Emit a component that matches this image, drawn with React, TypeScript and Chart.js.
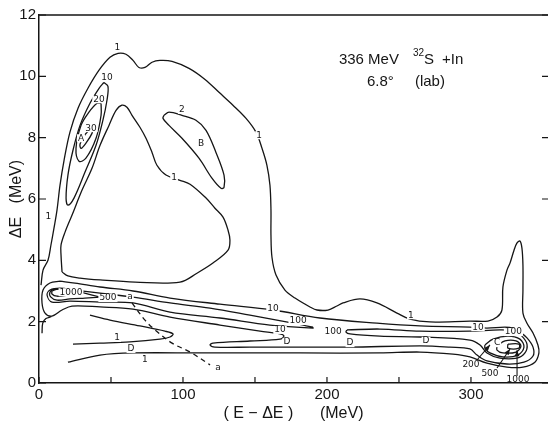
import React, { useEffect, useRef } from "react";
import { Chart, registerables } from "chart.js";

Chart.register(...registerables);

type P = [number, number];

// ---- axes ----
const X_MIN = 0;
const X_MAX = 353.5;
const Y_MIN = 0;
const Y_MAX = 12;
const X_TICKS = [0, 100, 200, 300];
const X_MINOR = [50, 150, 250];
const Y_TICKS = [0, 2, 4, 6, 8, 10, 12];

// ---- contour lines (E-ΔE in MeV, ΔE in MeV) ----
const OUTER_1: P[] = [
  [1.4, 3.19], [2.8, 3.68], [6.3, 4.01], [8.3, 4.5], [10.4, 5.05], [12.5, 5.64], [14.6, 6.45],
  [17.4, 7.26], [21.5, 8.18], [27.1, 8.96], [34.0, 9.61], [41.7, 10.2], [49.3, 10.62], [54.9, 10.75],
  [60.4, 10.72], [65.3, 10.52], [69.4, 10.29], [73.6, 10.29], [78.5, 10.46], [84.0, 10.52],
  [92.4, 10.49], [104.2, 10.26], [115.3, 9.9], [125.0, 9.48], [134.7, 9.06], [143.8, 8.63],
  [150.7, 8.18], [154.9, 7.65], [158.3, 7.1], [160.4, 6.45], [161.1, 5.64], [161.1, 4.82],
  [161.8, 4.1], [164.6, 3.52], [170.8, 3.03], [177.8, 2.77], [188.2, 2.48], [193.1, 2.38],
  [200.7, 2.38], [206.9, 2.51], [211.1, 2.61], [222.9, 2.74], [234.7, 2.61], [248.6, 2.28],
  [257.6, 2.08], [271.5, 1.99], [299.3, 2.02], [311.8, 2.02], [318.1, 2.15], [321.5, 2.38],
  [322.2, 3.13], [325.0, 3.68], [327.1, 3.91], [329.9, 4.33], [331.9, 4.56], [334.0, 4.63],
  [335.4, 4.4], [336.1, 3.84], [336.1, 3.03], [336.1, 2.28], [338.9, 1.95], [343.1, 1.63],
  [346.5, 1.24], [347.2, 0.98], [344.4, 0.68], [336.1, 0.52], [325.0, 0.52], [311.1, 0.65],
  [299.3, 0.85], [287.5, 0.94], [264.6, 1.01], [236.8, 0.98], [181.3, 0.98], [111.8, 0.98],
  [65.3, 0.98], [42.4, 0.91], [20.1, 0.68],
];

const HOLE_1: P[] = [
  [16.0, 3.62], [15.3, 4.17], [15.3, 4.5], [18.1, 4.92], [22.9, 5.47], [29.9, 6.29], [36.8, 7.0],
  [42.4, 7.75], [48.6, 8.4], [53.5, 8.89], [57.6, 9.06], [61.1, 8.99], [64.6, 8.73], [70.1, 8.34],
  [74.3, 7.98], [78.5, 7.52], [81.9, 7.1], [88.2, 6.78], [97.9, 6.61], [104.9, 6.48], [116.0, 6.03],
  [122.2, 5.7], [127.8, 5.41], [131.3, 4.98], [132.6, 4.66], [131.3, 4.33], [120.8, 3.91],
  [109.7, 3.58], [97.9, 3.29], [66.7, 3.29], [42.4, 3.36], [28.5, 3.42], [20.1, 3.49],
];

const PEAK_A_10: P[] = [
  [45.1, 9.8], [47.9, 9.67], [47.2, 9.22], [44.4, 8.57], [39.6, 7.75], [31.9, 6.87], [24.3, 6.03],
  [20.1, 5.8], [18.8, 6.03], [20.1, 6.78], [23.6, 7.59], [28.5, 8.4], [35.4, 9.12], [41.7, 9.61],
];
const PEAK_A_20: P[] = [
  [43.1, 9.12], [43.1, 8.73], [39.6, 7.98], [32.6, 7.33], [27.8, 7.23], [25.7, 7.65], [29.2, 8.4],
  [34.7, 8.83], [40.3, 9.12],
];
const PEAK_A_30: P[] = [
  [37.5, 8.34], [36.8, 8.14], [32.6, 7.82], [29.2, 7.65], [28.5, 7.79], [31.3, 8.05], [34.7, 8.24],
];
const PEAK_B_2: P[] = [
  [86.8, 8.73], [90.3, 8.83], [99.3, 8.73], [109.0, 8.57], [116.0, 8.24], [122.9, 7.52],
  [128.5, 6.78], [128.5, 6.38], [126.4, 6.35], [120.1, 6.68], [111.1, 7.33], [99.3, 7.98],
  [90.3, 8.4], [86.1, 8.63],
];

const BAND_10: P[] = [
  [14.6, 3.32], [25.0, 3.26], [42.4, 3.13], [65.3, 3.0], [91.0, 2.77], [125.7, 2.57], [162.5, 2.38],
  [195.1, 2.12], [234.7, 1.95], [264.6, 1.86], [299.3, 1.82], [311.1, 1.79], [323.6, 1.82],
  [329.2, 1.79], [334.0, 1.66], [338.9, 1.47], [343.1, 1.17], [343.1, 0.88], [336.8, 0.68],
  [325.0, 0.62], [311.1, 0.72], [304.2, 0.91], [299.3, 1.11], [285.4, 1.17], [264.6, 1.21],
  [216.0, 1.17], [181.3, 1.17], [146.5, 1.17], [122.2, 1.17], [118.8, 1.24], [120.8, 1.3],
  [146.5, 1.37], [167.4, 1.43], [170.1, 1.53], [167.4, 1.6], [153.5, 1.69], [125.7, 1.89],
  [91.0, 2.15], [65.3, 2.41], [42.4, 2.48], [22.9, 2.51], [16.0, 2.38], [9.0, 2.18], [4.2, 2.28],
  [2.1, 2.61], [2.8, 3.03], [7.6, 3.26],
];

const LEFT_100: P[] = [
  [190.3, 1.82], [176.4, 1.95], [146.5, 2.21], [118.8, 2.44], [91.0, 2.61], [65.3, 2.8],
  [42.4, 2.93], [25.0, 3.03], [14.6, 3.09], [7.6, 3.03], [5.6, 2.87], [9.0, 2.64], [21.5, 2.67],
  [42.4, 2.64], [65.3, 2.61], [91.0, 2.31], [125.7, 2.12], [160.4, 1.89], [190.3, 1.79],
];
const LEFT_500: P[] = [
  [42.4, 2.8], [28.5, 2.96], [18.1, 3.06], [11.1, 3.06], [7.6, 2.96], [8.3, 2.8], [12.5, 2.7],
  [21.5, 2.74], [31.9, 2.77],
];
const LEFT_1000: P[] = [
  [9.0, 3.0], [13.2, 3.06], [20.1, 3.03], [25.0, 2.93], [20.1, 2.87], [12.5, 2.83], [9.0, 2.9],
];

const TONGUE_1: P[] = [
  [35.4, 2.21], [49.3, 2.05], [70.1, 1.86], [87.5, 1.69], [93.1, 1.6], [91.0, 1.5], [84.0, 1.43],
  [63.2, 1.34], [42.4, 1.3], [23.6, 1.27],
];
const STUB_LEFT: P[] = [[2.1, 1.62], [2.6, 1.95], [4.8, 2.1], [8.5, 2.16]];

const RIGHT_100: P[] = [
  [213.9, 1.73], [236.8, 1.76], [264.6, 1.69], [299.3, 1.69], [320.1, 1.73], [330.6, 1.69],
  [335.4, 1.53], [338.9, 1.27], [337.5, 0.98], [331.9, 0.81], [320.1, 0.81], [311.1, 0.98],
  [306.3, 1.24], [299.3, 1.4], [264.6, 1.5], [236.8, 1.53], [216.0, 1.6], [213.2, 1.66],
];
const RIGHT_200: P[] = [
  [309.7, 1.24], [315.3, 1.43], [325.7, 1.53], [334.0, 1.43], [336.8, 1.17], [332.6, 0.91],
  [322.2, 0.85], [313.2, 0.98], [309.7, 1.14],
];
const RIGHT_500: P[] = [
  [318.1, 1.21], [323.6, 1.37], [331.3, 1.37], [334.7, 1.21], [331.3, 1.01], [322.2, 0.98],
  [318.1, 1.07],
];
const RIGHT_1000: P[] = [[325.7, 1.27], [333.3, 1.27], [333.3, 1.14], [325.7, 1.14]];

const TRACK_A: P[] = [
  [64.6, 2.61], [73.6, 2.05], [80.6, 1.73], [92.4, 1.3], [104.9, 1.01], [118.8, 0.59],
];

const ARROWS: [P, P][] = [
  [[304.2, 0.75], [313.2, 1.24]],
  [[318.1, 0.49], [327.1, 1.11]],
  [[332.0, 0.23], [332.0, 1.07]],
];

const LABELS: [string, number, number][] = [
  ["1", 54.5, 10.95], ["10", 47.2, 9.97], ["20", 41.7, 9.25], ["30", 36.1, 8.31], ["A", 29.2, 7.98],
  ["2", 99.3, 8.9], ["B", 112.5, 7.79], ["1", 93.8, 6.71], ["1", 152.8, 8.08], ["1", 6.5, 5.41],
  ["1000", 22.2, 2.96], ["500", 47.9, 2.77], ["a", 63.2, 2.8], ["1", 54.2, 1.47], ["D", 63.9, 1.11],
  ["1", 73.6, 0.75], ["a", 124.3, 0.49], ["10", 162.5, 2.44], ["100", 179.9, 2.02],
  ["10", 167.4, 1.73], ["D", 172.2, 1.34], ["100", 204.2, 1.69], ["D", 216.0, 1.3],
  ["1", 258.3, 2.21], ["D", 268.8, 1.37], ["10", 304.9, 1.82], ["100", 329.5, 1.66], ["C", 318.1, 1.3],
];
const ARROW_LABELS: [string, number, number][] = [
  ["200", 300.0, 0.59], ["500", 313.2, 0.29], ["1000", 332.6, 0.1],
];

const CONTOURS: { pts: P[]; closed: boolean; dash?: number[] }[] = [
  { pts: OUTER_1, closed: false },
  { pts: HOLE_1, closed: true },
  { pts: PEAK_A_10, closed: true },
  { pts: PEAK_A_20, closed: true },
  { pts: PEAK_A_30, closed: true },
  { pts: PEAK_B_2, closed: true },
  { pts: BAND_10, closed: true },
  { pts: LEFT_100, closed: true },
  { pts: LEFT_500, closed: true },
  { pts: LEFT_1000, closed: true },
  { pts: TONGUE_1, closed: false },
  { pts: STUB_LEFT, closed: false },
  { pts: RIGHT_100, closed: true },
  { pts: RIGHT_200, closed: true },
  { pts: RIGHT_500, closed: true },
  { pts: RIGHT_1000, closed: true },
  { pts: TRACK_A, closed: false, dash: [5, 4] },
];

const INK = "#151515";
const FAM = '"Liberation Sans", Arial, sans-serif';
const LBL = '"DejaVu Sans", sans-serif';

const decor = {
  id: "decor",
  afterDraw(chart: any) {
    const { ctx, chartArea: a, scales } = chart;
    const x = scales.x;
    const y = scales.y;
    const px = (v: number) => x.getPixelForValue(v);
    const py = (v: number) => y.getPixelForValue(v);
    ctx.save();
    ctx.strokeStyle = INK;
    ctx.fillStyle = INK;
    ctx.lineWidth = 1.4;
    ctx.beginPath();
    ctx.moveTo(a.left, a.top);
    ctx.lineTo(a.right, a.top);
    ctx.stroke();
    ctx.lineWidth = 1.2;
    ctx.beginPath();
    [...X_TICKS, ...X_MINOR].forEach((v) => {
      ctx.moveTo(px(v), a.bottom);
      ctx.lineTo(px(v), a.bottom - 6);
    });
    Y_TICKS.forEach((v) => {
      ctx.moveTo(a.left, py(v));
      ctx.lineTo(a.left + 7, py(v));
      ctx.moveTo(a.right, py(v));
      ctx.lineTo(a.right - 6, py(v));
    });
    ctx.stroke();

    // arrows
    ctx.lineWidth = 1.1;
    ARROWS.forEach(([s, e]) => {
      const x1 = px(s[0]), y1 = py(s[1]), x2 = px(e[0]), y2 = py(e[1]);
      ctx.beginPath();
      ctx.moveTo(x1, y1);
      ctx.lineTo(x2, y2);
      ctx.stroke();
      const ang = Math.atan2(y2 - y1, x2 - x1);
      const L = 6, W = 2.4;
      ctx.beginPath();
      ctx.moveTo(x2, y2);
      ctx.lineTo(x2 - L * Math.cos(ang) + W * Math.sin(ang), y2 - L * Math.sin(ang) - W * Math.cos(ang));
      ctx.lineTo(x2 - L * Math.cos(ang) - W * Math.sin(ang), y2 - L * Math.sin(ang) + W * Math.cos(ang));
      ctx.closePath();
      ctx.fill();
    });

    // contour labels
    ctx.font = `9px ${LBL}`;
    ctx.textAlign = "center";
    ctx.textBaseline = "middle";
    LABELS.forEach(([t, vx, vy]) => {
      const w = ctx.measureText(t).width;
      const cx = px(vx), cy = py(vy);
      ctx.fillStyle = "#fff";
      ctx.fillRect(cx - w / 2 - 1, cy - 4, w + 2, 8);
      ctx.fillStyle = INK;
      ctx.fillText(t, cx, cy);
    });
    ARROW_LABELS.forEach(([t, vx, vy]) => {
      ctx.fillText(t, px(vx), py(vy));
    });

    // title
    ctx.textAlign = "left";
    ctx.textBaseline = "alphabetic";
    const big = `15px ${FAM}`;
    const small = `10px ${FAM}`;
    let tx = px(208.3);
    const ty = py(10.39);
    ctx.font = big;
    ctx.fillText("336 MeV", tx, ty);
    tx += ctx.measureText("336 MeV").width + 14;
    ctx.font = small;
    ctx.fillText("32", tx, ty - 8);
    tx += ctx.measureText("32").width;
    ctx.font = big;
    ctx.fillText("S", tx, ty);
    tx += ctx.measureText("S").width + 8;
    ctx.fillText("+In", tx, ty);
    const ty2 = py(9.67);
    ctx.fillText("6.8°", px(227.8), ty2);
    ctx.fillText("(lab)", px(261.1), ty2);
    ctx.restore();
  },
};

export default function App() {
  const ref = useRef<HTMLCanvasElement>(null);
  useEffect(() => {
    if (!ref.current) return;
    Chart.defaults.font.family = FAM;
    const datasets = CONTOURS.map((c) => ({
      data: (c.closed ? [...c.pts, c.pts[0]] : c.pts).map(([vx, vy]) => ({ x: vx, y: vy })),
      showLine: true,
      borderColor: INK,
      backgroundColor: INK,
      borderWidth: 1.3,
      borderDash: c.dash || [],
      pointRadius: 0,
      pointHoverRadius: 0,
      tension: 0.35,
      fill: false,
    }));
    const chart = new Chart(ref.current, {
      type: "scatter",
      data: { datasets },
      options: {
        responsive: false,
        animation: false,
        devicePixelRatio: 1,
        layout: { padding: { top: 15, right: 0, left: 0, bottom: 0 } },
        plugins: { legend: { display: false }, tooltip: { enabled: false } },
        events: [],
        scales: {
          x: {
            type: "linear",
            position: "bottom",
            min: X_MIN,
            max: X_MAX,
            afterBuildTicks: (s: any) => {
              s.ticks = X_TICKS.map((v) => ({ value: v }));
            },
            afterFit: (s: any) => {
              s.height = 40;
            },
            grid: { display: false, drawTicks: false },
            border: { display: true, color: INK, width: 1.5 },
            ticks: {
              color: INK,
              font: { size: 15, family: FAM },
              padding: 3,
              maxRotation: 0,
              autoSkip: false,
            },
            title: {
              display: true,
              text: "( E − ΔE )      (MeV)",
              color: INK,
              font: { size: 16, family: FAM },
              padding: { top: 0, bottom: 0 },
            },
          },
          y: {
            type: "linear",
            position: "left",
            min: Y_MIN,
            max: Y_MAX,
            afterBuildTicks: (s: any) => {
              s.ticks = Y_TICKS.map((v) => ({ value: v }));
            },
            afterFit: (s: any) => {
              s.width = 39;
            },
            grid: { display: false, drawTicks: false },
            border: { display: true, color: INK, width: 1.5 },
            ticks: {
              color: INK,
              font: { size: 15, family: FAM },
              padding: 3,
              autoSkip: false,
            },
            title: {
              display: true,
              text: "ΔE   (MeV)",
              color: INK,
              font: { size: 16, family: FAM },
              padding: { top: 7, bottom: 0 },
            },
          },
        },
      },
      plugins: [decor],
    });
    return () => chart.destroy();
  }, []);
  return (
    <div style={{ position: "fixed", left: 0, top: 0, width: 548, height: 423, background: "#fff" }}>
      <canvas ref={ref} width={548} height={423} style={{ display: "block" }} />
    </div>
  );
}
